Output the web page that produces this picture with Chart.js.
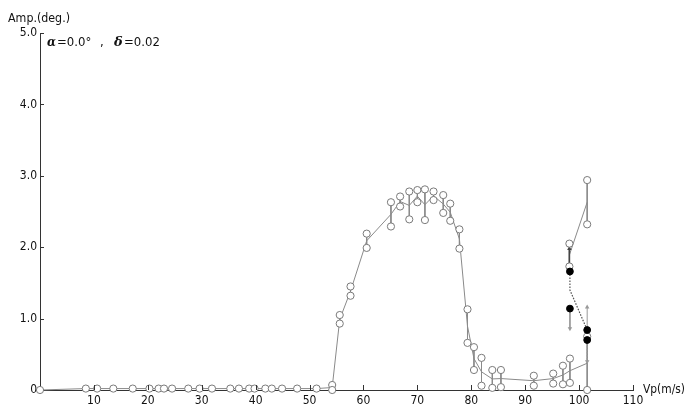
<!DOCTYPE html>
<html>
<head>
<meta charset="utf-8">
<script src="https://cdn.jsdelivr.net/npm/chart.js@4.4.0/dist/chart.umd.min.js"></script>
<style>
html,body{margin:0;padding:0;background:#fff;}
#wrap{position:relative;width:686px;height:410px;}
</style>
</head>
<body>
<div id="wrap"><canvas id="c" width="686" height="410"></canvas></div>
<script>
// ---- data ----
const vp = [0, 8.5, 10.6, 13.6, 17.2, 20.3, 22.0, 23.0, 24.5, 27.5, 29.6, 31.9, 35.3, 36.9, 38.8, 39.8, 41.8, 43.0, 44.9, 47.7, 51.3,
  54.2, 55.6, 57.6, 60.6, 65.1, 66.8, 68.5, 70.0, 71.4, 73.0, 74.8, 76.1, 77.8, 79.3, 80.5, 81.9, 83.9, 85.5, 91.6, 95.2, 97.0, 98.3, 101.5];
const ampUpper = [0.0, 0.02, 0.02, 0.02, 0.02, 0.02, 0.02, 0.02, 0.02, 0.02, 0.02, 0.02, 0.02, 0.02, 0.02, 0.02, 0.02, 0.02, 0.02, 0.02, 0.02,
  0.07, 1.05, 1.45, 2.19, 2.63, 2.71, 2.78, 2.80, 2.81, 2.78, 2.73, 2.61, 2.25, 1.13, 0.60, 0.45, 0.28, 0.28, 0.20, 0.23, 0.34, 0.44, 0.75];
const ampLower = [0.0, 0.02, 0.02, 0.02, 0.02, 0.02, 0.02, 0.02, 0.02, 0.02, 0.02, 0.02, 0.02, 0.02, 0.02, 0.02, 0.02, 0.02, 0.02, 0.02, 0.02,
  0.0, 0.93, 1.32, 1.99, 2.29, 2.57, 2.39, 2.63, 2.38, 2.66, 2.48, 2.37, 1.98, 0.66, 0.28, 0.06, 0.03, 0.04, 0.06, 0.09, 0.08, 0.10, 0.00];

// upper branch (open circles)
const vpHigh = [98.2, 101.5];
const ampHighUpper = [2.05, 2.94];
const ampHighLower = [1.73, 2.32];

// filled circles (unstable branch)
const vpFilled = [98.3, 101.5];
const ampFilledUpper = [1.66, 0.84];
const ampFilledLower = [1.14, 0.70];
// dotted path joining filled circles
const dotVp = [98.3, 98.3, 101.5];
const dotAmp = [1.66, 1.40, 0.84];

// arrows
const arrowVp = [98.2, 98.3, 101.5, 101.5];
const arrowFrom = [1.76, 1.14, 0.84, 0.70];
const arrowTo = [1.98, 0.86, 1.16, 0.40];

// axis ticks
const xTicks = [10, 20, 30, 40, 50, 60, 70, 80, 90, 100, 110];
const yTicks = [1, 2, 3, 4, 5];

// ---- build datasets ----
const FONT = "'DejaVu Sans Condensed', 'Liberation Sans Narrow', sans-serif";
const GREY = '#8a8a8a';

function meanPts(xs, us, ls) { return xs.map((x, i) => ({x: x, y: (us[i] + ls[i]) / 2})); }
function connectorPts(xs, us, ls) {
  const out = [];
  xs.forEach((x, i) => { out.push({x: x, y: us[i]}); out.push({x: x, y: ls[i]}); out.push({x: x, y: null}); });
  return out;
}
function circlePts(xs, us, ls) {
  const out = [];
  xs.forEach((x, i) => { out.push({x: x, y: us[i]}); if (ls[i] !== us[i]) out.push({x: x, y: ls[i]}); });
  return out;
}

const datasets = [];
datasets.push({type: 'line', data: meanPts(vp, ampUpper, ampLower), borderColor: GREY, borderWidth: 1, pointRadius: 0, fill: false, order: 10, clip: false});
datasets.push({type: 'line', data: meanPts(vpHigh, ampHighUpper, ampHighLower), borderColor: GREY, borderWidth: 1, pointRadius: 0, fill: false, order: 10, clip: false});
datasets.push({type: 'line', data: connectorPts(vp, ampUpper, ampLower), borderColor: GREY, borderWidth: 1, pointRadius: 0, spanGaps: false, fill: false, order: 10, clip: false});
datasets.push({type: 'line', data: connectorPts(vpHigh, ampHighUpper, ampHighLower), borderColor: GREY, borderWidth: 1, pointRadius: 0, spanGaps: false, fill: false, order: 10, clip: false});
datasets.push({type: 'line', data: dotVp.map((x, i) => ({x: x, y: dotAmp[i]})), borderColor: '#555', borderWidth: 1.2, borderDash: [1.5, 1.5], pointRadius: 0, fill: false, order: 10, clip: false});
arrowVp.forEach((x, i) => {
  const up = arrowTo[i] > arrowFrom[i];
  datasets.push({type: 'line', data: [{x: x, y: arrowFrom[i]}, {x: x, y: arrowTo[i]}],
    borderColor: i === 0 ? '#444' : '#999', borderWidth: i === 0 ? 1.6 : 1, borderDash: i === 3 ? [1.5, 1.5] : [],
    pointRadius: [0, 2.6], pointStyle: 'triangle', rotation: up ? 0 : 180,
    pointBackgroundColor: i === 0 ? '#444' : '#999', pointBorderColor: i === 0 ? '#444' : '#999', pointBorderWidth: 0,
    fill: false, order: 9, clip: false});
});
datasets.push({type: 'scatter', data: circlePts(vp, ampUpper, ampLower), pointRadius: 3.6, pointBorderWidth: 1, pointBorderColor: '#7a7a7a', pointBackgroundColor: '#fff', order: 2, clip: false});
datasets.push({type: 'scatter', data: circlePts(vpHigh, ampHighUpper, ampHighLower), pointRadius: 3.6, pointBorderWidth: 1, pointBorderColor: '#7a7a7a', pointBackgroundColor: '#fff', order: 2, clip: false});
datasets.push({type: 'scatter', data: circlePts(vpFilled, ampFilledUpper, ampFilledLower), pointRadius: 3.4, pointBorderWidth: 1, pointBorderColor: '#000', pointBackgroundColor: '#000', order: 1, clip: false});

const decor = {
  id: 'decor',
  afterDraw(chart) {
    const ctx = chart.ctx, xs = chart.scales.x, ys = chart.scales.y;
    const a = chart.chartArea;
    ctx.save();
    ctx.strokeStyle = '#333';
    ctx.lineWidth = 1;
    ctx.beginPath();
    xTicks.forEach(v => { const px = Math.round(xs.getPixelForValue(v)) + 0.5; ctx.moveTo(px, a.bottom); ctx.lineTo(px, a.bottom - 5); });
    yTicks.forEach(v => { const py = Math.round(ys.getPixelForValue(v)) + 0.5; ctx.moveTo(a.left, py); ctx.lineTo(a.left + 4, py); });
    ctx.stroke();
    ctx.fillStyle = '#111';
    ctx.textBaseline = 'alphabetic';
    ctx.font = '13px ' + FONT;
    ctx.fillText('Amp.(deg.)', 8, 22, 62);
    ctx.fillText('Vp(m/s)', 643, 393, 42);
    // parameter text
    ctx.font = 'italic bold 13px "DejaVu Serif", serif';
    ctx.fillText('α', 47, 46, 9);
    ctx.fillText('δ', 114, 46, 9);
    ctx.font = '13px ' + FONT;
    ctx.fillText('=0.0°', 57, 46, 36);
    ctx.fillText(',', 100, 46);
    ctx.fillText('=0.02', 124, 46, 36);
    ctx.restore();
  }
};

new Chart(document.getElementById('c'), {
  type: 'scatter',
  data: {datasets: datasets},
  options: {
    responsive: false,
    animation: false,
    devicePixelRatio: 1,
    layout: {padding: {left: 0, right: 53, top: 33, bottom: 0}},
    plugins: {legend: {display: false}, tooltip: {enabled: false}},
    scales: {
      x: {
        type: 'linear', min: 0, max: 110,
        afterFit(s) { s.height = 20; },
        border: {display: true, color: '#333', width: 1},
        grid: {display: false, drawTicks: false},
        ticks: {stepSize: 10, autoSkip: false, maxRotation: 0, padding: 4, color: '#111',
          font: {family: FONT, size: 12},
          callback: v => v === 0 ? '' : String(v)}
      },
      y: {
        type: 'linear', min: 0, max: 5,
        afterFit(s) { s.width = 40; },
        border: {display: true, color: '#333', width: 1},
        grid: {display: false, drawTicks: false},
        ticks: {stepSize: 1, autoSkip: false, padding: 3, color: '#111',
          font: {family: FONT, size: 12},
          callback: v => v === 0 ? '0' : v.toFixed(1)}
      }
    }
  },
  plugins: [decor]
});
</script>
</body>
</html>
